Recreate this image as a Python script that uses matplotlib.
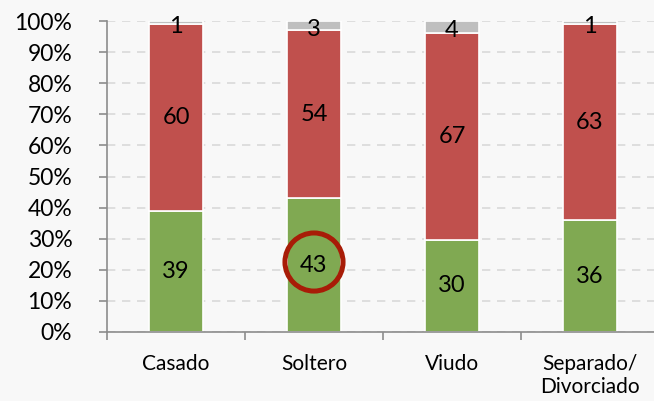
import numpy as np
import matplotlib
matplotlib.use('Agg')
import matplotlib.pyplot as plt

plt.rcParams['font.family'] = ['Lato', 'DejaVu Sans']

categories = ['Casado', 'Soltero', 'Viudo', 'Separado/\nDivorciado']
green_vals = [39, 43, 30, 36]
red_vals = [60, 54, 67, 63]
gray_vals = [1, 3, 4, 1]
highlight = 1  # Soltero, green value circled

green_c = '#80a952'
red_c = '#c0504d'
gray_c = '#bfbfbf'
bg = '#f8f8f8'

g = np.array(green_vals, dtype=float)
r = np.array(red_vals, dtype=float)
k = np.array(gray_vals, dtype=float)
tot = g + r + k
gp, rp, kp = g / tot, r / tot, k / tot

fig = plt.figure(figsize=(6.54, 4.01), dpi=100, facecolor=bg)
ax = fig.add_axes([107 / 654, 1 - 332 / 401, 552 / 654, 311 / 401], facecolor=bg)

x = np.arange(len(categories))
w = 0.39
ax.bar(x, gp, w, color=green_c, edgecolor='white', linewidth=1.2, zorder=2)
ax.bar(x, rp, w, bottom=gp, color=red_c, edgecolor='white', linewidth=1.2, zorder=2)
ax.bar(x, kp, w, bottom=gp + rp, color=gray_c, edgecolor='white', linewidth=1.2, zorder=2)

fs = 17
for i in range(len(categories)):
    ax.text(x[i], gp[i] / 2, str(green_vals[i]), ha='center', va='center', fontsize=fs, zorder=4)
    ax.text(x[i], gp[i] + rp[i] / 2, str(red_vals[i]), ha='center', va='center', fontsize=fs, zorder=4)
    ax.text(x[i], gp[i] + rp[i] + kp[i] / 2 - 0.012, str(gray_vals[i]), ha='center', va='center',
            fontsize=fs, zorder=4)

ax.scatter([x[highlight]], [gp[highlight] / 2 + 0.01], s=1750, facecolors='none',
           edgecolors='#a81c07', linewidths=3.6, zorder=5, clip_on=False)

ax.set_xlim(-0.5, 3.5)
ax.set_ylim(0, 1)
ax.set_yticks(np.arange(0, 1.01, 0.1))
ax.set_yticklabels([f'{int(round(v * 100))}%' for v in np.arange(0, 1.01, 0.1)], fontsize=16.5)
ax.yaxis.grid(True, color='#d9d9d9', linestyle=(0, (5, 4)), linewidth=1.2, zorder=0)
ax.set_axisbelow(True)

ax.set_xticks(x)
ax.set_xticklabels(categories, fontsize=15, linespacing=1.15)
ax.set_xticks(np.arange(-0.5, 3.6, 1), minor=True)
ax.tick_params(axis='x', which='major', length=0, pad=16)
ax.tick_params(axis='x', which='minor', length=6, color='#8c8c8c', width=1.2)
ax.tick_params(axis='y', length=6, color='#8c8c8c', width=1.2, pad=19)

for s in ['top', 'right']:
    ax.spines[s].set_visible(False)
for s in ['left', 'bottom']:
    ax.spines[s].set_color('#8c8c8c')
    ax.spines[s].set_linewidth(1.2)

fig.savefig('out.png', dpi=100, facecolor=bg)
